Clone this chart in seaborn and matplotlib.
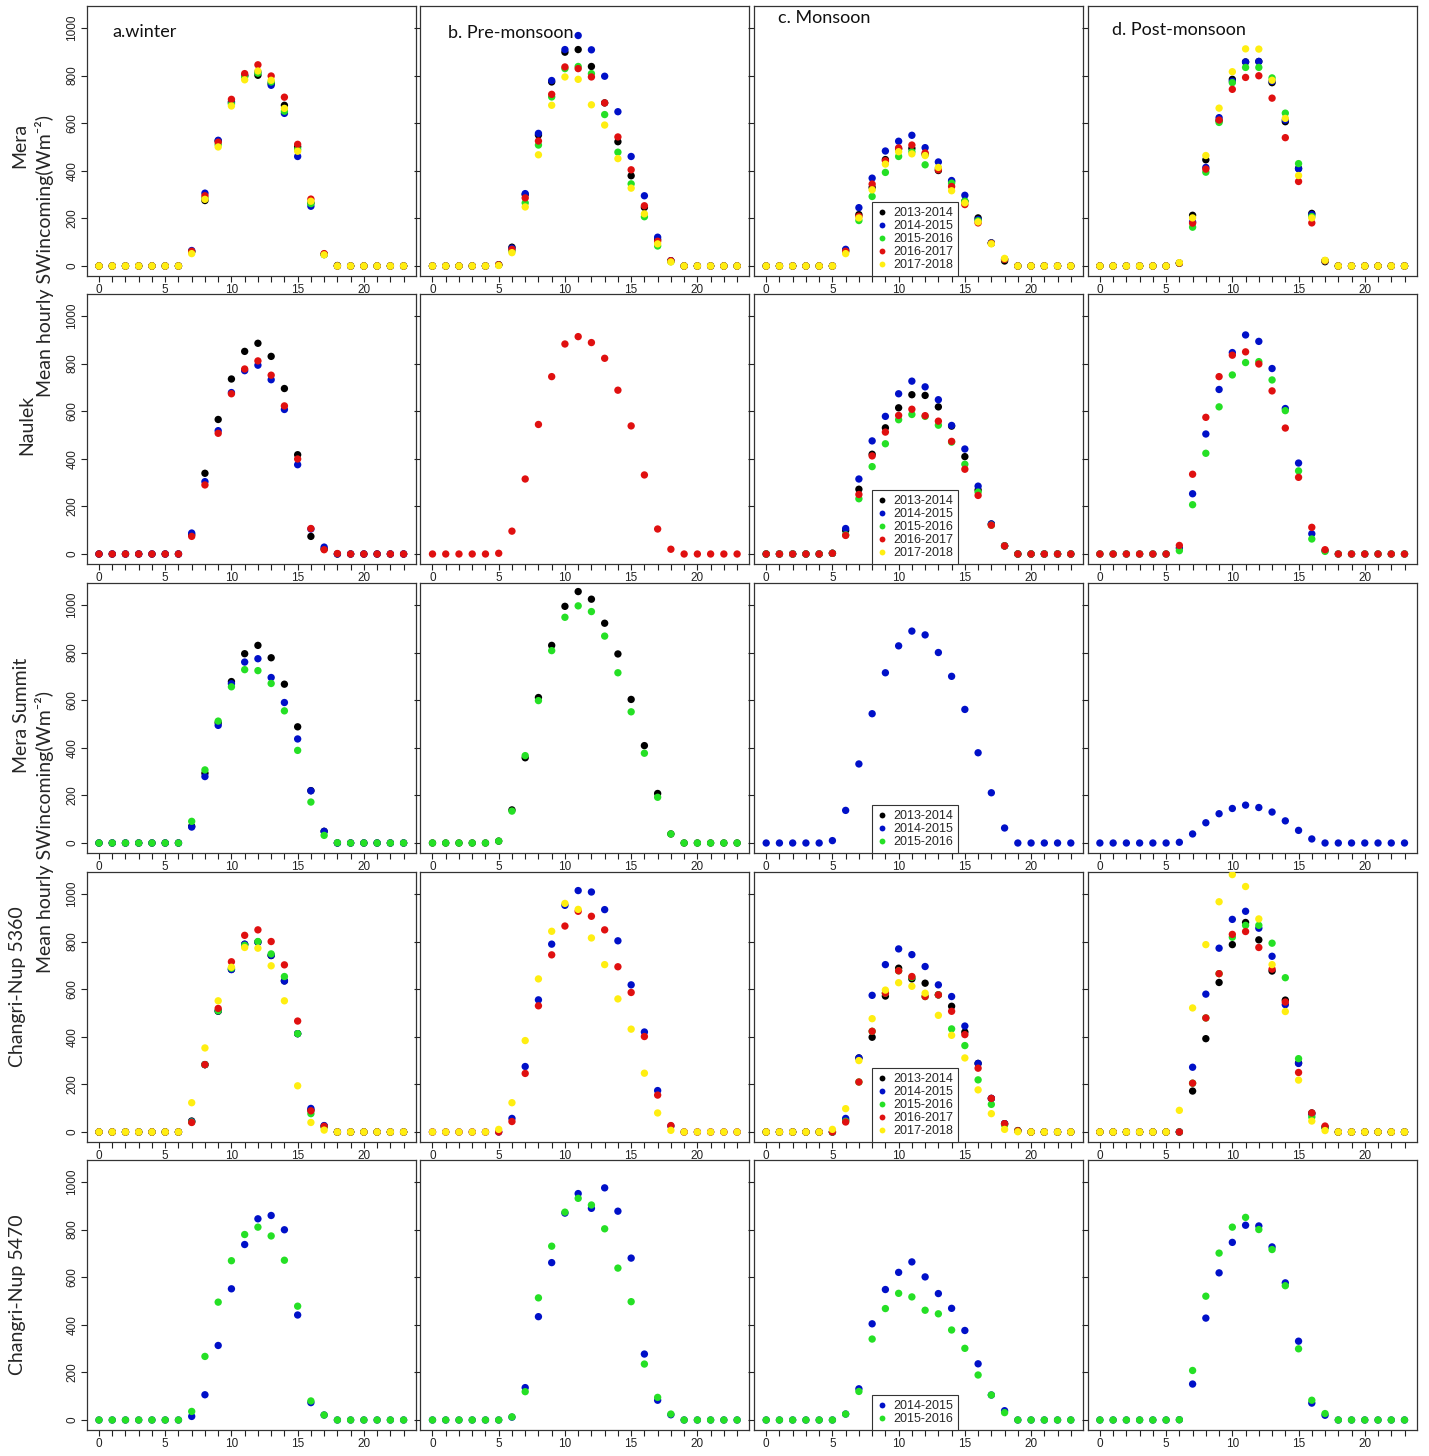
import matplotlib
matplotlib.use("Agg")
import matplotlib.pyplot as plt
import seaborn as sns
import pandas as pd
from matplotlib.lines import Line2D

HOURS = list(range(24))
YEARS = ["2013-2014", "2014-2015", "2015-2016", "2016-2017", "2017-2018"]
COLORS = {"2013-2014": "#000000", "2014-2015": "#0010C8", "2015-2016": "#25E025",
          "2016-2017": "#E01010", "2017-2018": "#FFEE11"}
SEASON_TITLES = ["a.winter", "b. Pre-monsoon", "c. Monsoon", "d. Post-monsoon"]
STATIONS = ["Mera", "Naulek", "Mera Summit", "Changri-Nup 5360", "Changri-Nup 5470"]
X_TICK_LABELS = ["0", "5", "10", "15", "20"]
Y_TICKS = [0, 200, 400, 600, 800, 1000]
Z7 = [0] * 7

# ---------------- Mera ----------------
mera_winter = {
    "2013-2014": Z7 + [60, 275, 525, 690, 800, 801, 766, 675, 501, 265, 50, 2, 0, 0, 0, 0, 0],
    "2014-2015": Z7 + [65, 306, 528, 685, 800, 815, 759, 641, 460, 251, 48, 0, 0, 0, 0, 0, 0],
    "2015-2016": Z7 + [60, 285, 510, 680, 795, 810, 773, 650, 490, 262, 48, 0, 0, 0, 0, 0, 0],
    "2016-2017": Z7 + [62, 295, 520, 700, 808, 845, 798, 709, 511, 281, 52, 0, 0, 0, 0, 0, 0],
    "2017-2018": Z7 + [52, 280, 500, 672, 782, 819, 780, 662, 482, 272, 47, 0, 0, 0, 0, 0, 0],
}
mera_pre = {
    "2013-2014": [0, 0, 0, 0, 0, 5, 79, 300, 550, 773, 898, 909, 838, 685, 522, 379, 246, 111, 22, 0, 0, 0, 0, 0],
    "2014-2015": [0, 0, 0, 0, 0, 5, 75, 304, 557, 779, 909, 968, 908, 797, 648, 460, 295, 121, 22, 0, 0, 0, 0, 0],
    "2015-2016": [0, 0, 0, 0, 0, 4, 63, 265, 508, 710, 829, 838, 808, 636, 478, 345, 207, 84, 18, 0, 0, 0, 0, 0],
    "2016-2017": [0, 0, 0, 0, 0, 5, 70, 286, 525, 721, 836, 829, 794, 685, 542, 404, 253, 104, 22, 0, 0, 0, 0, 0],
    "2017-2018": [0, 0, 0, 0, 0, 2, 56, 248, 467, 675, 794, 784, 677, 592, 451, 327, 219, 93, 17, 0, 0, 0, 0, 0],
}
mera_mon = {
    "2013-2014": [0, 0, 0, 0, 0, 0, 65, 216, 330, 447, 492, 494, 469, 401, 355, 272, 202, 97, 21, 0, 0, 0, 0, 0],
    "2014-2015": [0, 0, 0, 0, 0, 0, 70, 245, 369, 483, 524, 549, 497, 437, 359, 297, 195, 97, 28, 0, 0, 0, 0, 0],
    "2015-2016": [0, 0, 0, 0, 0, 0, 60, 191, 292, 393, 460, 480, 425, 410, 348, 272, 190, 95, 28, 0, 0, 0, 0, 0],
    "2016-2017": [0, 0, 0, 0, 0, 0, 62, 209, 344, 442, 496, 508, 475, 404, 334, 258, 181, 95, 28, 0, 0, 0, 0, 0],
    "2017-2018": [0, 0, 0, 0, 0, 0, 52, 202, 320, 428, 480, 471, 464, 414, 316, 265, 185, 93, 32, 0, 0, 0, 0, 0],
}
mera_post = {
    "2013-2014": [0, 0, 0, 0, 0, 0, 12, 213, 446, 610, 784, 857, 859, 770, 606, 410, 221, 18, 0, 0, 0, 0, 0, 0],
    "2014-2015": [0, 0, 0, 0, 0, 0, 12, 185, 414, 623, 776, 857, 859, 776, 613, 408, 216, 22, 0, 0, 0, 0, 0, 0],
    "2015-2016": [0, 0, 0, 0, 0, 0, 12, 163, 394, 603, 770, 834, 834, 790, 642, 430, 208, 22, 0, 0, 0, 0, 0, 0],
    "2016-2017": [0, 0, 0, 0, 0, 0, 12, 180, 407, 613, 742, 792, 799, 705, 539, 355, 181, 22, 0, 0, 0, 0, 0, 0],
    "2017-2018": [0, 0, 0, 0, 0, 0, 14, 202, 464, 663, 816, 912, 911, 780, 620, 380, 202, 24, 0, 0, 0, 0, 0, 0],
}
# ---------------- Naulek ----------------
naulek_winter = {
    "2013-2014": Z7 + [81, 339, 565, 735, 851, 885, 830, 695, 417, 74, 21, 0, 0, 0, 0, 0, 0],
    "2014-2015": Z7 + [88, 304, 518, 678, 770, 793, 732, 607, 375, 105, 29, 0, 0, 0, 0, 0, 0],
    "2016-2017": Z7 + [74, 290, 507, 673, 777, 811, 751, 622, 399, 107, 18, 2, 0, 0, 0, 0, 0],
}
naulek_pre = {
    "2016-2017": [0, 0, 0, 0, 0, 3, 96, 315, 544, 745, 882, 913, 888, 822, 688, 538, 332, 105, 20, 0, 0, 0, 0, 0],
}
naulek_mon = {
    "2013-2014": [0, 0, 0, 0, 0, 3, 99, 272, 419, 530, 614, 669, 666, 618, 537, 409, 269, 126, 34, 0, 0, 0, 0, 0],
    "2014-2015": [0, 0, 0, 0, 0, 3, 107, 315, 475, 578, 673, 726, 702, 648, 540, 441, 285, 126, 34, 0, 0, 0, 0, 0],
    "2015-2016": [0, 0, 0, 0, 0, 3, 80, 232, 367, 463, 564, 586, 578, 541, 470, 377, 260, 121, 34, 0, 0, 0, 0, 0],
    "2016-2017": [0, 0, 0, 0, 0, 3, 78, 250, 412, 512, 582, 608, 581, 558, 473, 356, 246, 121, 34, 0, 0, 0, 0, 0],
}
naulek_post = {
    "2014-2015": [0, 0, 0, 0, 0, 0, 25, 253, 504, 691, 846, 920, 893, 779, 611, 382, 85, 14, 0, 0, 0, 0, 0, 0],
    "2015-2016": [0, 0, 0, 0, 0, 0, 14, 207, 423, 618, 752, 804, 808, 731, 602, 349, 63, 11, 0, 0, 0, 0, 0, 0],
    "2016-2017": [0, 0, 0, 0, 0, 0, 36, 335, 574, 745, 835, 849, 798, 685, 529, 322, 112, 18, 0, 0, 0, 0, 0, 0],
}
# ---------------- Mera Summit ----------------
summit_winter = {
    "2013-2014": Z7 + [70, 293, 505, 678, 795, 830, 778, 667, 488, 220, 49, 0, 0, 0, 0, 0, 0],
    "2014-2015": Z7 + [67, 279, 494, 669, 760, 774, 695, 590, 437, 219, 49, 0, 0, 0, 0, 0, 0],
    "2015-2016": Z7 + [91, 307, 512, 656, 728, 724, 670, 555, 389, 172, 32, 1, 0, 0, 0, 0, 0],
}
summit_pre = {
    "2013-2014": [0, 0, 0, 0, 0, 8, 139, 358, 611, 830, 994, 1056, 1024, 923, 794, 603, 409, 208, 38, 0, 0, 0, 0, 0],
    "2015-2016": [0, 0, 0, 0, 0, 8, 134, 367, 598, 808, 948, 996, 972, 869, 715, 551, 377, 192, 38, 0, 0, 0, 0, 0],
}
summit_mon = {
    "2014-2015": [0, 0, 0, 0, 0, 10, 137, 332, 543, 715, 828, 890, 874, 800, 700, 561, 379, 211, 63, 0, 0, 0, 0, 0],
}
summit_post = {
    "2014-2015": [0, 0, 0, 0, 0, 0, 3, 38, 85, 123, 145, 159, 149, 130, 93, 53, 17, 0, 0, 0, 0, 0, 0, 0],
}
# ---------------- Changri-Nup 5360 ----------------
cn5360_winter = {
    "2013-2014": Z7 + [46, 283, 507, 683, 788, 798, 741, 635, 413, 92, 25, 0, 0, 0, 0, 0, 0],
    "2014-2015": Z7 + [44, 283, 509, 682, 789, 797, 742, 634, 413, 99, 27, 0, 0, 0, 0, 0, 0],
    "2015-2016": Z7 + [42, 283, 509, 688, 784, 800, 748, 653, 413, 77, 20, 0, 0, 0, 0, 0, 0],
    "2016-2017": Z7 + [40, 283, 519, 715, 826, 849, 800, 702, 466, 89, 24, 0, 0, 0, 0, 0, 0],
    "2017-2018": Z7 + [123, 353, 551, 692, 775, 772, 698, 551, 194, 40, 8, 0, 0, 0, 0, 0, 0],
}
cn5360_pre = {
    "2014-2015": [0, 0, 0, 0, 0, 0, 57, 275, 555, 789, 952, 1014, 1008, 934, 803, 618, 420, 174, 25, 0, 0, 0, 0, 0],
    "2016-2017": [0, 0, 0, 0, 0, 0, 44, 246, 530, 744, 865, 927, 906, 849, 694, 586, 401, 155, 27, 0, 0, 0, 0, 0],
    "2017-2018": [0, 0, 0, 0, 0, 11, 123, 384, 643, 843, 960, 935, 815, 703, 559, 432, 247, 80, 7, 0, 0, 0, 0, 0],
}
cn5360_mon = {
    "2013-2014": [0, 0, 0, 0, 0, 0, 50, 311, 398, 571, 688, 643, 625, 576, 528, 420, 288, 141, 35, 6, 0, 0, 0, 0],
    "2014-2015": [0, 0, 0, 0, 0, 0, 57, 311, 574, 703, 769, 745, 695, 618, 569, 445, 288, 141, 35, 5, 0, 0, 0, 0],
    "2015-2016": [0, 0, 0, 0, 0, 0, 45, 210, 423, 583, 677, 650, 569, 576, 433, 363, 219, 116, 30, 5, 0, 0, 0, 0],
    "2016-2017": [0, 0, 0, 0, 0, 0, 42, 210, 423, 583, 677, 653, 569, 576, 507, 409, 268, 141, 35, 5, 0, 0, 0, 0],
    "2017-2018": [0, 0, 0, 0, 0, 11, 98, 300, 476, 596, 627, 612, 583, 490, 406, 311, 177, 77, 11, 1, 0, 0, 0, 0],
}
cn5360_post = {
    "2013-2014": [0, 0, 0, 0, 0, 0, 0, 172, 392, 628, 787, 880, 807, 676, 554, 290, 80, 20, 0, 0, 0, 0, 0, 0],
    "2014-2015": [0, 0, 0, 0, 0, 0, 0, 272, 579, 772, 893, 927, 856, 738, 535, 288, 75, 20, 0, 0, 0, 0, 0, 0],
    "2015-2016": [0, 0, 0, 0, 0, 0, 0, 205, 479, 665, 818, 868, 868, 793, 648, 308, 63, 18, 0, 0, 0, 0, 0, 0],
    "2016-2017": [0, 0, 0, 0, 0, 0, 0, 205, 479, 665, 830, 842, 775, 684, 546, 250, 80, 25, 0, 0, 0, 0, 0, 0],
    "2017-2018": [0, 0, 0, 0, 0, 0, 91, 521, 787, 967, 1081, 1031, 895, 703, 506, 218, 46, 6, 0, 0, 0, 0, 0, 0],
}
# ---------------- Changri-Nup 5470 ----------------
cn5470_winter = {
    "2014-2015": Z7 + [15, 106, 313, 551, 737, 845, 859, 799, 441, 73, 21, 0, 0, 0, 0, 0, 0],
    "2015-2016": Z7 + [36, 267, 495, 669, 779, 810, 773, 671, 478, 80, 21, 0, 0, 0, 0, 0, 0],
}
cn5470_pre = {
    "2014-2015": [0, 0, 0, 0, 0, 0, 12, 136, 434, 661, 869, 951, 889, 975, 877, 680, 277, 83, 22, 0, 0, 0, 0, 0],
    "2015-2016": [0, 0, 0, 0, 0, 0, 13, 119, 513, 730, 873, 931, 903, 803, 638, 497, 235, 95, 25, 0, 0, 0, 0, 0],
}
cn5470_mon = {
    "2014-2015": [0, 0, 0, 0, 0, 0, 25, 131, 404, 548, 620, 664, 601, 531, 469, 376, 236, 105, 39, 0, 0, 0, 0, 0],
    "2015-2016": [0, 0, 0, 0, 0, 0, 25, 120, 340, 468, 532, 517, 461, 446, 378, 301, 189, 105, 31, 0, 0, 0, 0, 0],
}
cn5470_post = {
    "2014-2015": [0, 0, 0, 0, 0, 0, 1, 151, 428, 618, 746, 818, 815, 727, 576, 331, 71, 20, 0, 0, 0, 0, 0, 0],
    "2015-2016": [0, 0, 0, 0, 0, 0, 1, 208, 520, 701, 810, 851, 800, 716, 564, 299, 83, 27, 0, 0, 0, 0, 0, 0],
}

PANELS = [
    [mera_winter, mera_pre, mera_mon, mera_post],
    [naulek_winter, naulek_pre, naulek_mon, naulek_post],
    [summit_winter, summit_pre, summit_mon, summit_post],
    [cn5360_winter, cn5360_pre, cn5360_mon, cn5360_post],
    [cn5470_winter, cn5470_pre, cn5470_mon, cn5470_post],
]
LEGEND_YEARS = [YEARS, YEARS, YEARS[:3], YEARS, YEARS[1:3]]

sns.set_theme(style="ticks")
plt.rcParams["font.family"] = ["Liberation Sans", "DejaVu Sans"]

W, H = 1429, 1456
fig = plt.figure(figsize=(W / 100, H / 100), dpi=100)

col_left = [86.8, 420.3, 754.0, 1087.7]
row_top = [6, 294, 583, 872, 1160]
pw, ph = 329, 270
TITLE_POS = [(1.0, 983), (1.2, 979), (0.9, 1042), (0.9, 992)]
LABEL_FONT = ["Lato", "DejaVu Sans"]

for r in range(5):
    for c in range(4):
        ax = fig.add_axes([col_left[c] / W, 1 - (row_top[r] + ph) / H, pw / W, ph / H])
        data = PANELS[r][c]
        rows = []
        for yr in YEARS:
            if yr in data:
                for h, v in zip(HOURS, data[yr]):
                    rows.append({"hour": h, "sw": v, "year": yr})
        df = pd.DataFrame(rows)
        sns.scatterplot(data=df, x="hour", y="sw", hue="year", palette=COLORS,
                        s=28, linewidth=0, legend=False, ax=ax, zorder=3)
        ax.set_xlim(-0.92, 23.92)
        ax.set_ylim(-42, 1092)
        ax.set_xlabel("")
        ax.set_ylabel("")
        ax.set_xticks(HOURS)
        ax.set_xticklabels([str(h) if h % 5 == 0 else "" for h in HOURS])
        ax.set_yticks(Y_TICKS)
        ax.tick_params(axis="both", direction="out", length=4, width=0.8,
                       color="#222222", labelsize=8.5, labelcolor="#222222", pad=2)
        if c == 0:
            ax.set_yticklabels([str(v) for v in Y_TICKS])
            for t in ax.get_yticklabels():
                t.set_rotation(90)
                t.set_va("center")
        else:
            ax.set_yticklabels([])
        for sp in ax.spines.values():
            sp.set_visible(True)
            sp.set_color("#333333")
            sp.set_linewidth(0.9)
        if r == 0:
            tx, ty = TITLE_POS[c]
            ax.text(tx, ty, SEASON_TITLES[c], ha="left", va="center",
                    fontsize=13, family=LABEL_FONT, color="#111111")
        if c == 2:
            handles = [Line2D([], [], marker="o", linestyle="", markersize=4.2,
                              markerfacecolor=COLORS[y], markeredgewidth=0, label=y)
                       for y in LEGEND_YEARS[r]]
            leg = ax.legend(handles=handles, loc="lower left",
                            bbox_to_anchor=((8 + 0.92) / 24.84, 0.0),
                            fontsize=9, frameon=True, fancybox=False,
                            edgecolor="#333333", framealpha=1, borderpad=0.4,
                            labelspacing=0.08, handlelength=0.8, handletextpad=0.5,
                            borderaxespad=0)
            leg.get_frame().set_linewidth(0.8)
            leg.set_zorder(5)

# station and axis labels
ylab = "Mean hourly SWincoming(Wm\u207b\u00b2)"
fig.text(20 / W, 1 - 145 / H, "Mera", rotation=90, ha="center", va="center", fontsize=14, family=LABEL_FONT)
fig.text(45 / W, 1 - 256 / H, ylab, rotation=90, ha="center", va="center", fontsize=14, family=LABEL_FONT)
fig.text(27 / W, 1 - 425 / H, "Naulek", rotation=90, ha="center", va="center", fontsize=14, family=LABEL_FONT)
fig.text(22 / W, 1 - 715 / H, "Mera Summit", rotation=90, ha="center", va="center", fontsize=14, family=LABEL_FONT)
fig.text(45 / W, 1 - 832 / H, ylab, rotation=90, ha="center", va="center", fontsize=14, family=LABEL_FONT)
fig.text(18 / W, 1 - 987 / H, "Changri-Nup 5360", rotation=90, ha="center", va="center", fontsize=14, family=LABEL_FONT)
fig.text(18 / W, 1 - 1295 / H, "Changri-Nup 5470", rotation=90, ha="center", va="center", fontsize=14, family=LABEL_FONT)

fig.savefig("out.png", dpi=100)
